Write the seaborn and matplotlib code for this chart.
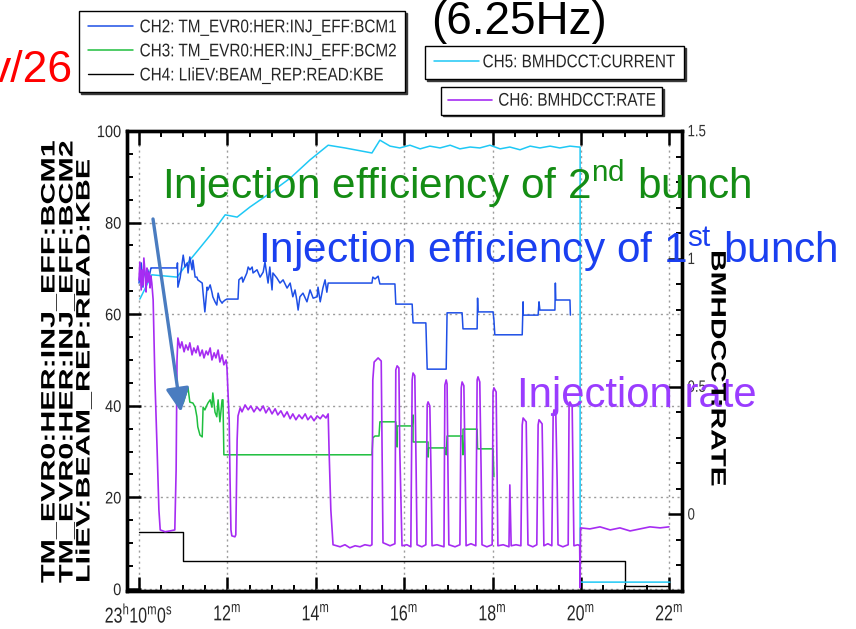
import matplotlib
matplotlib.use("Agg")
import matplotlib.pyplot as plt
import matplotlib.font_manager as fm
from matplotlib.patheffects import AbstractPathEffect
from matplotlib.transforms import Affine2D
from matplotlib.ticker import MultipleLocator, FixedLocator
import seaborn as sns

# ---------------------------------------------------------------------------
# Trend data, time in minutes after 23:00
# ---------------------------------------------------------------------------
# CH4 LIiEV:BEAM_REP:READ:KBE (left axis)
kbe_t = [10.0, 11.0, 11.0, 21.0, 21.0, 22.0]
kbe_v = [12.4, 12.4, 6.1, 6.1, 0.7, 0.7]

# CH5 BMHDCCT:CURRENT (drawn against the left scale)
cur_t = [10.02, 10.29, 10.86, 11.15, 11.38, 11.65, 11.95, 12.22, 12.51, 12.90,
         13.42, 13.87, 14.28, 14.66, 15.27, 15.45, 15.68, 15.90, 16.13, 16.36,
         16.58, 16.81, 17.04, 17.26, 17.49, 17.71, 17.94, 18.17, 18.39, 18.62,
         18.85, 19.07, 19.30, 19.52, 19.75, 19.95, 19.98, 19.98, 22.01]
cur_v = [63.3, 68.6, 68.1, 71.8, 74.5, 77.7, 81.7, 81.2, 83.4, 86.0,
         89.7, 93.7, 96.9, 96.3, 95.2, 98.0, 96.7, 96.3, 96.9, 96.1,
         96.7, 96.3, 96.9, 96.1, 96.5, 96.3, 96.9, 96.1, 96.5, 95.9,
         96.7, 96.3, 96.7, 96.3, 96.7, 96.5, 96.5, 1.5, 1.5]

# CH2 TM_EVR0:HER:INJ_EFF:BCM1 (left axis)
bcm1_t = [10.00, 10.05, 10.09, 10.11, 10.16, 10.20, 10.23, 10.27, 10.29, 10.86,
          10.87, 10.88, 10.93, 11.00, 11.04, 11.09, 11.11, 11.15, 11.20, 11.22,
          11.27, 11.31, 11.33, 11.43, 11.45, 11.49, 11.54, 11.56, 11.61, 11.65,
          11.67, 11.72, 11.76, 11.79, 11.83, 11.88, 11.90, 11.95, 11.99, 12.24,
          12.26, 12.33, 12.35, 12.44, 12.47, 12.51, 12.56, 12.58, 12.67, 12.74,
          12.81, 12.85, 12.90, 12.92, 12.96, 13.01, 13.03, 13.12, 13.19, 13.26,
          13.35, 13.42, 13.48, 13.53, 13.57, 13.60, 13.64, 13.71, 13.80, 13.87,
          13.94, 14.03, 14.05, 14.10, 14.16, 14.21, 14.25, 14.28, 15.27, 15.29,
          15.34, 15.41, 15.45, 15.79, 15.81, 16.18, 16.20, 16.49, 16.52, 16.95,
          16.97, 17.31, 17.33, 17.65, 17.66, 17.67, 18.01, 18.03, 18.05, 18.67,
          18.69, 18.69, 19.03, 19.05, 19.07, 19.41, 19.42, 19.43, 19.75, 19.76]
bcm1_v = [66.8, 71.2, 65.9, 70.3, 67.5, 69.7, 68.1, 70.1, 70.1, 70.1,
          71.2, 65.9, 67.9, 72.9, 70.3, 71.2, 69.0, 72.5, 69.7, 71.8,
          68.1, 68.1, 67.5, 66.8, 64.6, 60.5, 65.9, 65.3, 66.4, 64.8,
          63.8, 62.7, 62.0, 64.6, 63.1, 62.4, 62.7, 63.1, 63.3, 63.3,
          67.5, 68.1, 67.0, 69.0, 70.3, 69.7, 70.3, 69.0, 69.7, 68.1,
          69.2, 71.4, 68.1, 66.8, 70.3, 65.3, 69.0, 67.9, 66.8, 67.5,
          65.7, 66.8, 63.8, 65.3, 63.1, 60.9, 63.8, 64.6, 62.7, 65.3,
          63.5, 63.8, 65.9, 62.7, 65.7, 67.5, 64.8, 66.8, 66.8, 68.1,
          67.7, 68.3, 66.6, 66.6, 62.2, 62.2, 58.1, 58.1, 48.0, 48.0,
          60.3, 60.3, 56.8, 56.8, 63.5, 60.5, 60.5, 58.7, 55.5, 55.5,
          62.7, 59.8, 59.8, 62.7, 60.9, 60.9, 66.8, 63.1, 63.1, 59.8]

# CH3 TM_EVR0:HER:INJ_EFF:BCM2 (left axis)
bcm2_t = [10.86, 10.93, 11.00, 11.09, 11.11, 11.15, 11.22, 11.27, 11.31, 11.33,
          11.38, 11.43, 11.45, 11.49, 11.54, 11.56, 11.61, 11.65, 11.67, 11.72,
          11.76, 11.79, 11.83, 11.88, 11.90, 11.92, 15.27, 15.29, 15.34, 15.43,
          15.45, 15.81, 15.84, 15.84, 16.18, 16.20, 16.20, 16.54, 16.54, 16.55,
          16.95, 16.95, 16.97, 17.31, 17.33, 17.33, 17.65, 17.66, 18.01, 18.03]
bcm2_v = [41.3, 41.7, 40.6, 43.4, 43.9, 40.8, 40.6, 39.7, 37.6, 35.4,
          33.6, 33.2, 39.7, 39.1, 40.2, 40.6, 41.3, 39.7, 42.8, 38.6,
          37.6, 41.3, 36.5, 41.3, 41.3, 29.3, 29.3, 33.0, 33.4, 33.4,
          36.5, 36.5, 31.0, 35.6, 35.6, 38.0, 32.1, 32.1, 28.8, 30.8,
          30.8, 29.3, 33.4, 33.4, 29.3, 34.9, 34.9, 30.6, 30.6, 24.5]

# CH6 BMHDCCT:RATE (right axis)
rate_t = [10.00, 10.02, 10.05, 10.07, 10.09, 10.11, 10.14, 10.16, 10.18, 10.20,
          10.23, 10.25, 10.27, 10.29, 10.32, 10.36, 10.41, 10.45, 10.48, 10.59,
          10.70, 10.81, 10.84, 10.86, 10.88, 10.93, 10.97, 11.02, 11.06, 11.11,
          11.15, 11.20, 11.24, 11.29, 11.33, 11.38, 11.43, 11.47, 11.52, 11.56,
          11.61, 11.65, 11.70, 11.74, 11.79, 11.83, 11.88, 11.92, 11.97, 11.99,
          12.04, 12.06, 12.08, 12.10, 12.17, 12.19, 12.22, 12.24, 12.29, 12.33,
          12.40, 12.47, 12.53, 12.60, 12.67, 12.74, 12.81, 12.87, 12.94, 13.01,
          13.08, 13.14, 13.21, 13.28, 13.35, 13.42, 13.48, 13.55, 13.62, 13.69,
          13.76, 13.82, 13.89, 13.96, 14.03, 14.10, 14.16, 14.23, 14.28, 14.30,
          14.34, 14.39, 14.55, 14.66, 14.77, 14.89, 15.00, 15.11, 15.23, 15.27,
          15.29, 15.32, 15.41, 15.48, 15.50, 15.52, 15.68, 15.79,
          15.81, 15.84, 15.88, 15.90, 15.95, 16.06, 16.15,
          16.18, 16.20, 16.24, 16.27, 16.29, 16.40, 16.49,
          16.52, 16.54, 16.58, 16.61, 16.63, 16.74, 16.90,
          16.92, 16.95, 16.97, 16.99, 17.01, 17.15, 17.26,
          17.29, 17.31, 17.35, 17.38, 17.40, 17.51, 17.62,
          17.65, 17.67, 17.71, 17.74, 17.76, 17.87, 17.99,
          18.01, 18.03, 18.08, 18.10, 18.12, 18.24, 18.37,
          18.39, 18.42, 18.53, 18.64,
          18.67, 18.69, 18.76, 18.78, 18.80, 18.91, 19.00,
          19.03, 19.05, 19.12, 19.14, 19.16, 19.25, 19.34,
          19.37, 19.39, 19.43, 19.46, 19.48, 19.59, 19.71,
          19.73, 19.75, 19.80, 19.82, 19.84, 19.93,
          19.97, 19.98, 19.99, 20.20, 20.43, 20.66, 20.88, 21.11, 21.33, 21.56,
          21.79, 21.99]
rate_v = [0.917, 0.987, 0.878, 0.956, 0.897, 1.003, 0.937, 0.870, 0.964, 0.909,
          0.948, 0.886, 0.933, 0.905, 0.839, 0.526, 0.252, 0.018, -0.061, -0.068,
          -0.065, -0.061, 0.174, 0.604, 0.690, 0.651, 0.675, 0.636, 0.663, 0.643,
          0.671, 0.624, 0.651, 0.632, 0.659, 0.620, 0.643, 0.612, 0.639, 0.624,
          0.651, 0.604, 0.632, 0.612, 0.643, 0.596, 0.624, 0.585, 0.604, 0.573,
          0.370, 0.135, -0.061, -0.084, -0.088, -0.080, 0.291, 0.385, 0.417, 0.401,
          0.428, 0.409, 0.424, 0.401, 0.420, 0.405, 0.424, 0.397, 0.417, 0.393,
          0.413, 0.389, 0.405, 0.381, 0.401, 0.374, 0.393, 0.370, 0.389, 0.374,
          0.393, 0.370, 0.385, 0.366, 0.385, 0.374, 0.389, 0.377, 0.393, 0.252,
          0.018, -0.119, -0.127, -0.119, -0.131, -0.123, -0.127, -0.119, -0.123, -0.119,
          0.526, 0.596, 0.612, 0.600, 0.252, -0.111, -0.123, -0.115,
          0.565, 0.581, 0.573, 0.252, -0.123, -0.119, -0.127,
          0.526, 0.553, 0.542, 0.174, -0.119, -0.127, -0.119,
          0.428, 0.440, 0.424, 0.135, -0.123, -0.119, -0.127,
          0.506, 0.526, 0.510, 0.174, -0.119, -0.127, -0.119,
          0.495, 0.518, 0.503, 0.174, -0.123, -0.115, -0.123,
          0.526, 0.538, 0.518, 0.174, -0.119, -0.127, -0.119,
          0.479, 0.495, 0.479, 0.174, -0.123, -0.119, -0.127,
          0.115, -0.123, -0.119, -0.123,
          0.350, 0.377, 0.362, 0.135, -0.119, -0.127, -0.119,
          0.350, 0.370, 0.354, 0.135, -0.123, -0.115, -0.123,
          0.389, 0.409, 0.393, 0.135, -0.119, -0.127, -0.119,
          0.428, 0.440, 0.424, 0.135, -0.123, -0.119,
          -0.123, -0.287, -0.053, -0.057, -0.049, -0.061, -0.053, -0.065, -0.057, -0.049,
          -0.053, -0.049]

x_ticks = [10, 12, 14, 16, 18, 20, 22]
x_labels = [r"23$^{\mathregular{h}}$10$^{\mathregular{m}}$0$^{\mathregular{s}}$",
            r"12$^{\mathregular{m}}$", r"14$^{\mathregular{m}}$", r"16$^{\mathregular{m}}$",
            r"18$^{\mathregular{m}}$", r"20$^{\mathregular{m}}$", r"22$^{\mathregular{m}}$"]
left_ticks = [0, 20, 40, 60, 80, 100]
right_ticks = [0, 0.5, 1, 1.5]
right_labels = ["0", "0.5", "1", "1.5"]

legend_main = ["CH2: TM_EVR0:HER:INJ_EFF:BCM1", "CH3: TM_EVR0:HER:INJ_EFF:BCM2",
               "CH4: LIiEV:BEAM_REP:READ:KBE"]
legend_cur = "CH5: BMHDCCT:CURRENT"
legend_rate = "CH6: BMHDCCT:RATE"
left_axis_lines = ["TM_EVR0:HER:INJ_EFF:BCM1", "TM_EVR0:HER:INJ_EFF:BCM2",
                   "LIiEV:BEAM_REP:READ:KBE"]
right_axis_title = "BMHDCCT:RATE"

C_BLUE, C_GREEN, C_BLACK = "#1e4fe6", "#1fbf3f", "#000000"
C_CYAN, C_PURPLE = "#1ec8f5", "#a62cf2"

# ---------------------------------------------------------------------------
sns.set_theme(style="white")
installed = {f.name for f in fm.fontManager.ttflist}
NARROW = "Liberation Sans Narrow" if "Liberation Sans Narrow" in installed else "Liberation Sans"
plt.rcParams["font.family"] = ["Liberation Sans", "DejaVu Sans"]
plt.rcParams["mathtext.fontset"] = "custom"
plt.rcParams["mathtext.rm"] = "Liberation Sans"
plt.rcParams["axes.unicode_minus"] = False


class Stretch(AbstractPathEffect):
    """Scale glyph outlines about a fixed point given in display pixels."""

    def __init__(self, sx, sy, cx, cy):
        super().__init__()
        self._tf = Affine2D().translate(-cx, -cy).scale(sx, sy).translate(cx, cy)

    def draw_path(self, renderer, gc, tpath, affine, rgbFace=None):
        renderer.draw_path(gc, tpath, affine + self._tf, rgbFace)


W, H = 856, 629
fig = plt.figure(figsize=(W / 100, H / 100), dpi=100)
fig.patch.set_facecolor("white")


def fx(px):
    return px / W


def fy(py):
    return 1 - py / H


ax = fig.add_axes([fx(127), fy(591), (682 - 127) / W, (591 - 131) / H])
ax.set_facecolor("white")
ax2 = ax.twinx()

line_kw = dict(estimator=None, sort=False, legend=False)
sns.lineplot(x=kbe_t, y=kbe_v, ax=ax, color=C_BLACK, lw=1.0, **line_kw)
sns.lineplot(x=cur_t, y=cur_v, ax=ax, color=C_CYAN, lw=1.1, **line_kw)
sns.lineplot(x=bcm1_t, y=bcm1_v, ax=ax, color=C_BLUE, lw=1.1, **line_kw)
sns.lineplot(x=bcm2_t, y=bcm2_v, ax=ax, color=C_GREEN, lw=1.1, **line_kw)
sns.lineplot(x=rate_t, y=rate_v, ax=ax2, color=C_PURPLE, lw=1.2, **line_kw)
h_kbe, h_cur, h_bcm1, h_bcm2 = ax.lines[0], ax.lines[1], ax.lines[2], ax.lines[3]
h_rate = ax2.lines[0]

ax.set_xlim(9.7285, 22.285)
ax.set_ylim(-0.44, 100)
ax2.set_ylim(-0.3, 1.5)
ax.set_xlabel("")
ax.set_ylabel("")
ax2.set_ylabel("")

ax.xaxis.set_major_locator(FixedLocator(x_ticks))
ax.set_xticklabels(x_labels)
ax.xaxis.set_minor_locator(MultipleLocator(0.5))
ax.yaxis.set_major_locator(FixedLocator(left_ticks))
ax.set_yticklabels([str(v) for v in left_ticks])
ax.yaxis.set_minor_locator(MultipleLocator(5))
ax2.yaxis.set_major_locator(FixedLocator(right_ticks))
ax2.set_yticklabels(right_labels)
ax2.yaxis.set_minor_locator(MultipleLocator(0.1))

ax.grid(True, which="major", color="#9c9c9c", linestyle=(0, (1.5, 2.5)), linewidth=1.0)
ax.set_axisbelow(True)
ax2.grid(False)

ax.tick_params(which="both", direction="in", top=True, bottom=True, left=True, right=False,
               color="black")
ax.tick_params(which="major", length=10, width=1.8)
ax.tick_params(which="minor", length=4.5, width=1.4)
ax.tick_params(axis="x", labelsize=11.5, pad=10)
ax.tick_params(axis="y", labelsize=10.5, pad=4)
ax2.tick_params(which="both", direction="in", right=True, left=False, color="black")
ax2.tick_params(which="major", length=10, width=1.8, pad=4, labelsize=9.5,
                labelcolor="#333333")
ax2.tick_params(which="minor", length=4.5, width=1.4)
for lbl in ax.get_xticklabels() + ax.get_yticklabels() + ax2.get_yticklabels():
    lbl.set_family([NARROW, "DejaVu Sans"])

for a in (ax, ax2):
    for s in a.spines.values():
        s.set_color("black")
        s.set_linewidth(2.4)

# legend boxes above the plot
leg_kw = dict(loc="upper left", bbox_transform=fig.transFigure, frameon=True, fancybox=False,
              edgecolor="black", facecolor="white", framealpha=1, borderaxespad=0,
              handlelength=2.9,
              prop={"family": [NARROW, "DejaVu Sans"], "size": 11},
              shadow={"ox": 1.2, "oy": -1.2, "color": "#3a3a3a", "alpha": 1})
leg1 = fig.legend([h_bcm1, h_bcm2, h_kbe], legend_main, bbox_to_anchor=(fx(79), fy(11)),
                  borderpad=0.62, labelspacing=0.66, handletextpad=0.45, **leg_kw)
leg2 = fig.legend([h_cur], [legend_cur], bbox_to_anchor=(fx(425), fy(46)),
                  borderpad=0.62, handletextpad=0.25, **leg_kw)
leg3 = fig.legend([h_rate], [legend_rate], bbox_to_anchor=(fx(441), fy(87)),
                  borderpad=0.45, handletextpad=0.4, **leg_kw)
for lg in (leg1, leg2, leg3):
    lg.get_frame().set_linewidth(1.0)

# headline fragments
fig.text(fx(73), fy(82), "v/26", color="#ff0000", fontsize=32, ha="right", va="baseline")
fig.text(fx(431), fy(34), "(6.25Hz)", color="black", fontsize=33, ha="left", va="baseline")

# annotations
fig.text(fx(162), fy(199), r"Injection efficiency of 2$^{\mathregular{nd}}$ bunch",
         color="#148c14", fontsize=30.5, ha="left", va="baseline")
fig.text(fx(258), fy(263), r"Injection efficiency of 1$^{\mathregular{st}}$ bunch",
         color="#1a3ff0", fontsize=30.5, ha="left", va="baseline")
fig.text(fx(517), fy(407), "Injection rate", color="#9a3cff", fontsize=30.2,
         ha="left", va="baseline")
ax2.annotate("", xy=(10.95, 38.65), xytext=(10.317, 80.79),
             xycoords=ax.transData, textcoords=ax.transData,
             arrowprops=dict(arrowstyle="-|>,head_length=0.65,head_width=0.32",
                             color="#4a7cc0", lw=2.4, mutation_scale=22,
                             shrinkA=0, shrinkB=0))

# vertical axis titles (tall bold lettering)
left_x = [50, 68, 85]
left_bottom = 583
left_texts = [fig.text(fx(x), fy(left_bottom), s, rotation=90, ha="center", va="bottom",
                       fontsize=14, fontweight="bold", color="black")
              for x, s in zip(left_x, left_axis_lines)]
right_top = 250
right_text = fig.text(fx(717), fy(right_top), right_axis_title, rotation=270,
                      ha="center", va="top", fontsize=15, fontweight="bold", color="black")

fig.canvas.draw()
renderer = fig.canvas.get_renderer()
span_left = left_texts[0].get_window_extent(renderer).height
sy_left = (583 - 140) / span_left
for t, x in zip(left_texts, left_x):
    t.set_path_effects([Stretch(1.0, sy_left, x, H - left_bottom)])
span_right = right_text.get_window_extent(renderer).height
sy_right = (487 - 250) / span_right
right_text.set_path_effects([Stretch(1.0, sy_right, 717, H - right_top)])


def stretch_tall(texts, sy):
    """Give instrument-style lettering a taller aspect about each text's centre."""
    for t in texts:
        bb = t.get_window_extent(renderer)
        t.set_path_effects([Stretch(1.0, sy, (bb.x0 + bb.x1) / 2, (bb.y0 + bb.y1) / 2)])


stretch_tall(ax.get_xticklabels(), 1.35)
stretch_tall(ax.get_yticklabels(), 1.15)
stretch_tall(ax2.get_yticklabels(), 1.25)
for lg in (leg1, leg2, leg3):
    stretch_tall(lg.get_texts(), 1.2)

fig.savefig("out.png", dpi=100, facecolor="white")
